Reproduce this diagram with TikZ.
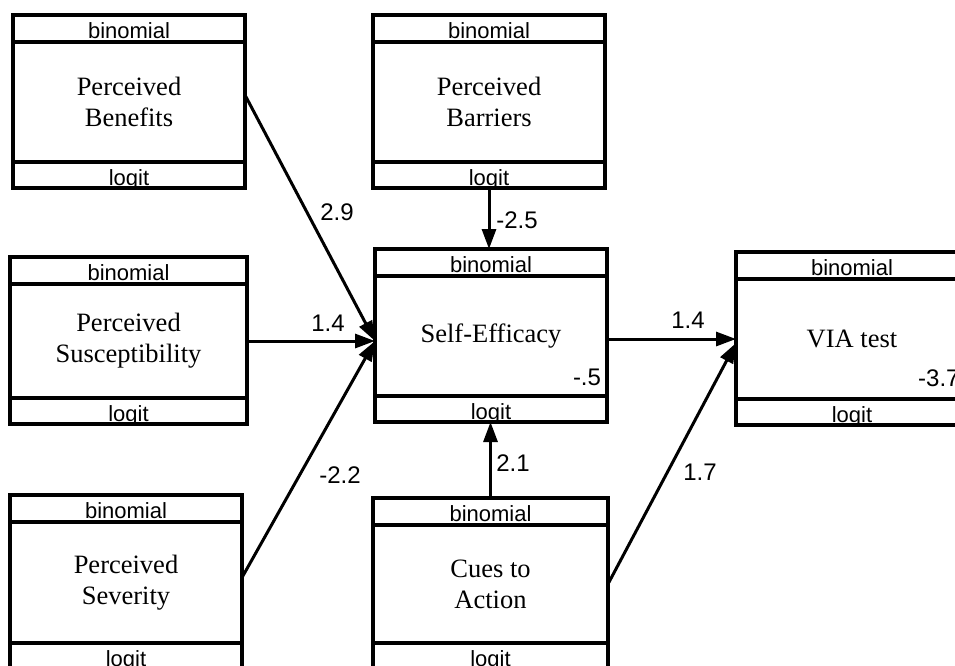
\documentclass[tikz,border=0pt]{standalone}
\usepackage{fontspec}
\setmainfont{Liberation Serif}
\newfontfamily\arialf{Liberation Sans}
\usetikzlibrary{arrows.meta,calc}
\newcommand\hbmodel[6]{%
  \node[mid, minimum width=#4pt, minimum height=#5pt] (#1) at (#2,#3) {#6};
  \node[hdr, minimum width=#4pt, anchor=south] (#1h) at (#1.north) {binomial};
  \node[ftr, minimum width=#4pt, anchor=north] (#1f) at (#1.south) {logit};}
\begin{document}
\begin{tikzpicture}[x=1pt,y=-1pt,
  mid/.style={draw, line width=3.8pt, inner sep=0pt, outer sep=0pt, align=center,
    font=\fontsize{26.5}{31}\selectfont},
  hdr/.style={draw, line width=3.8pt, inner sep=0pt, outer sep=0pt, minimum height=27pt,
    text height=23pt, text depth=4pt, font=\arialf\fontsize{22}{24}\selectfont},
  ftr/.style={draw, line width=3.8pt, inner sep=0pt, outer sep=0pt, minimum height=26pt,
    text height=23pt, text depth=3pt, font=\arialf\fontsize{22}{24}\selectfont},
  lbl/.style={font=\arialf\fontsize{24}{26}\selectfont, inner sep=0pt},
  conn/.style={line width=3pt},
  arr/.style={conn, -{Triangle[length=20pt,width=14pt]}}
]
\fill[white] (0,0) rectangle (955,665);
\useasboundingbox (0,0) rectangle (955,665);
\clip (0,0) rectangle (955,665);

\hbmodel{ben}{129}{102}{232}{120}{Perceived\\Benefits}
\hbmodel{bar}{489}{102}{232}{120}{Perceived\\Barriers}
\hbmodel{sus}{128.5}{341}{237}{114}{Perceived\\Susceptibility}
\hbmodel{sev}{126}{582.5}{232}{121}{Perceived\\Severity}
\hbmodel{se}{491}{336}{232}{120}{Self-Efficacy}
\hbmodel{cue}{490.5}{584}{235}{118}{Cues to\\Action}
\hbmodel{via}{852}{339}{232}{120}{VIA test}

\draw[arr] ([yshift=7pt]ben.east) -- ([yshift=-5pt]se.west);
\draw[arr] (sus.east) -- (sus.east -| se.west);
\draw[arr] ([yshift=5pt]sev.east) -- ([yshift=-5pt]se.west);
\draw[arr] (barf.south) -- (barf.south |- seh.north);
\draw[arr] (cueh.north) -- (cueh.north |- sef.south);
\draw[arr] (via.west -| se.east) -- (via.west);
\draw[arr] (cue.east) -- ([yshift=-4pt]via.west);

\node[lbl] (l29) at (337,212) {2.9};
\node[lbl] (l14a) at (328,323) {1.4};
\node[lbl] (l22) at (340,475) {-2.2};
\node[lbl] (l25) at (517,220) {-2.5};
\node[lbl] (l21) at (513,463) {2.1};
\node[lbl] (l14b) at (688,320) {1.4};
\node[lbl] (l17) at (700,472) {1.7};
\node[lbl] (l05) at (587,377) {-.5};
\node[lbl, anchor=west] (l37) at (918,378) {-3.7};
\end{tikzpicture}
\end{document}
